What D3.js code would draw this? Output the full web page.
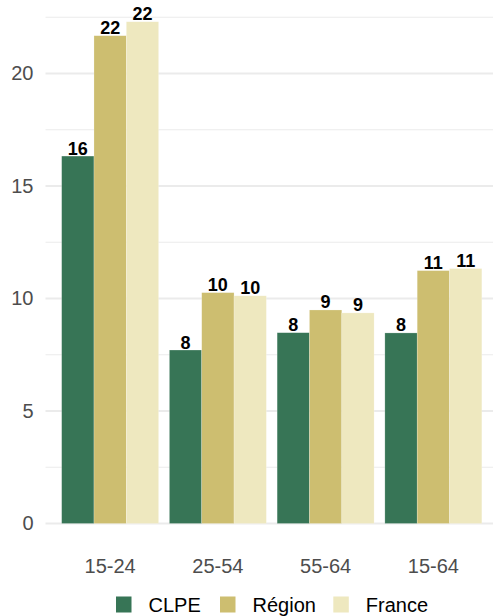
<!DOCTYPE html>
<html>
<head>
<meta charset="utf-8">
<script src="https://cdn.jsdelivr.net/npm/d3@7"></script>
<style>
  body { margin: 0; background: #fff; }
  svg { display: block; font-family: "Liberation Sans", Arial, sans-serif; }
</style>
</head>
<body>
<svg width="493" height="616"></svg>
<script>
var svg = d3.select('svg');
var width = +svg.attr('width');
var height = +svg.attr('height');

// data
var ages = ['15-24', '25-54', '55-64', '15-64'];
var zones = ['CLPE', 'Région', 'France'];
var clpe = [16.33, 7.71, 8.48, 8.47];
var region = [21.68, 10.26, 9.49, 11.24];
var france = [22.3, 10.12, 9.36, 11.33];
var colours = ['#377556', '#cdbe70', '#eee8bf'];
var yTicks = [0, 5, 10, 15, 20];
var yMinor = [2.5, 7.5, 12.5, 17.5, 22.5];

var series = [clpe, region, france];

var padding = {t: 0, l: 45.5, r: -5, b: 92.5};
var chartWidth = width - padding.l - padding.r;

var yScale = d3.scaleLinear()
  .domain([0, 23.27])
  .range([height - padding.b, height - padding.b - 23.27 * 22.5]);

// 4 groups, 0.6 step of room on each side, bars fill 0.9 of a step
var step = chartWidth / 4.2;
var xScale = d3.scaleBand().domain(ages)
  .range([padding.l + 0.1 * step, padding.l + 4.1 * step])
  .paddingInner(0.1).paddingOuter(0.05);

var inner = d3.scaleBand().domain(zones).range([0, xScale.bandwidth()]);

var grid = svg.append('g');
grid.selectAll('.minor').data(yMinor).enter().append('line')
  .attr('x1', padding.l).attr('x2', width)
  .attr('y1', d => yScale(d)).attr('y2', d => yScale(d))
  .attr('stroke', '#ebebeb').attr('stroke-width', 1.1);
grid.selectAll('.major').data(yTicks).enter().append('line')
  .attr('x1', padding.l).attr('x2', width)
  .attr('y1', d => yScale(d)).attr('y2', d => yScale(d))
  .attr('stroke', '#ebebeb').attr('stroke-width', 2.1);

var rows = [];
ages.forEach(function(a, i) {
  zones.forEach(function(z, j) {
    rows.push({age: a, zone: z, value: series[j][i], c: colours[j]});
  });
});

var chartG = svg.append('g');
chartG.selectAll('rect').data(rows).enter().append('rect')
  .attr('x', d => xScale(d.age) + inner(d.zone))
  .attr('width', inner.bandwidth())
  .attr('y', d => yScale(d.value))
  .attr('height', d => yScale(0) - yScale(d.value))
  .attr('fill', d => d.c)
  .attr('stroke', 'rgba(255,255,255,0.35)')
  .attr('stroke-width', 0.6);

chartG.selectAll('.lbl').data(rows).enter().append('text')
  .attr('x', d => xScale(d.age) + inner(d.zone) + inner.bandwidth() / 2)
  .attr('y', d => yScale(d.value) - 1.5)
  .attr('text-anchor', 'middle')
  .attr('font-size', '18px').attr('font-weight', 'bold').attr('fill', '#000')
  .text(d => Math.round(d.value));

var yAxis = svg.append('g')
  .attr('transform', 'translate(' + (padding.l - 12) + ',0)')
  .call(d3.axisLeft(yScale).tickValues(yTicks).tickSize(0).tickPadding(0));
yAxis.select('.domain').remove();
yAxis.selectAll('text').attr('font-size', '20px').attr('fill', '#4d4d4d')
  .attr('font-family', '"Liberation Sans", Arial, sans-serif');

var xAxis = svg.append('g')
  .attr('transform', 'translate(0,' + yScale(0) + ')')
  .call(d3.axisBottom(xScale).tickSize(0).tickPadding(0));
xAxis.select('.domain').remove();
xAxis.selectAll('text').attr('font-size', '20px').attr('fill', '#4d4d4d')
  .attr('dy', null).attr('y', 49)
  .attr('font-family', '"Liberation Sans", Arial, sans-serif');

// legend
var legX = [116, 220, 333.3];
var legend = svg.append('g');
zones.forEach(function(z, j) {
  legend.append('rect')
    .attr('x', legX[j]).attr('y', 596.5).attr('width', 15.5).attr('height', 16)
    .attr('fill', colours[j]);
  legend.append('text')
    .attr('x', legX[j] + 32.5).attr('y', 612)
    .attr('font-size', '20px').attr('fill', '#000')
    .text(z);
});
</script>
</body>
</html>
